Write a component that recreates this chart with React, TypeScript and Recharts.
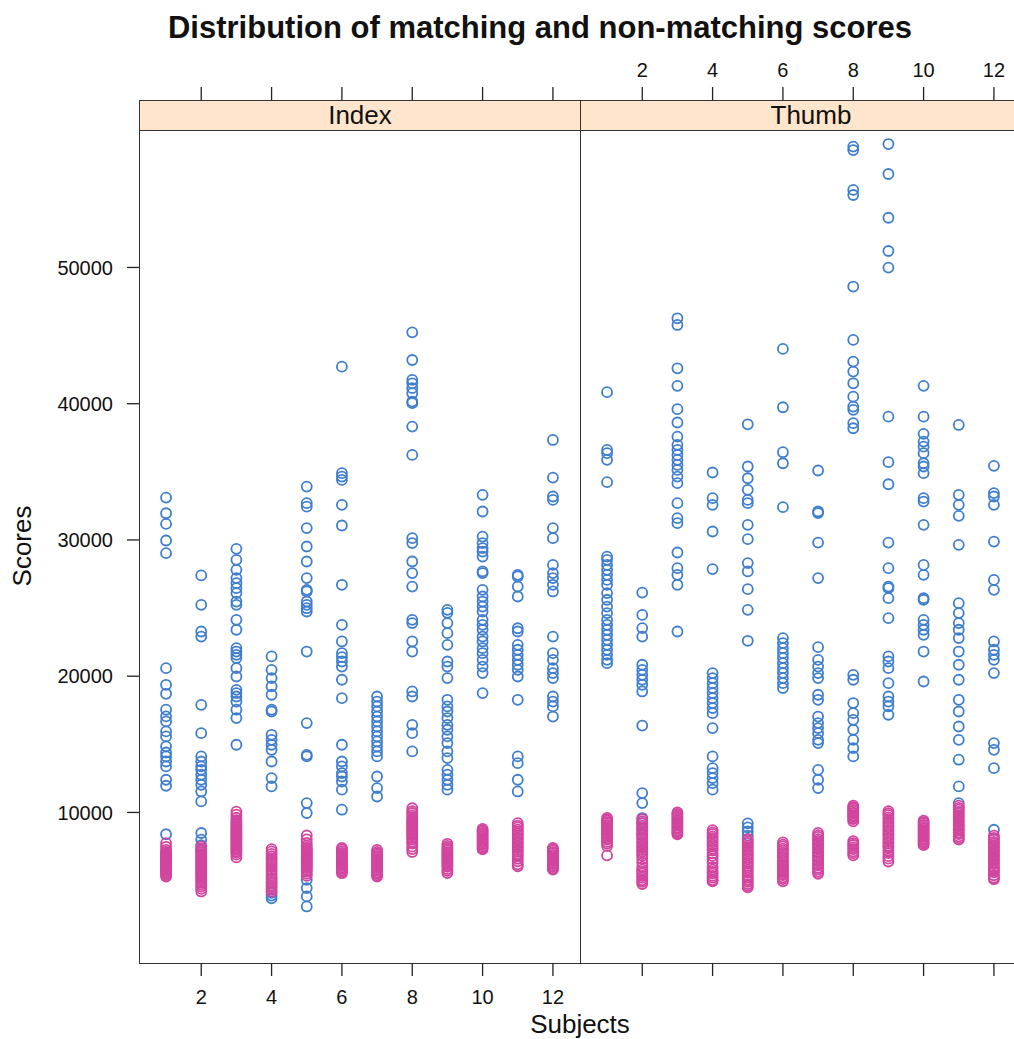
import React from 'react';
import { ScatterChart, Scatter, XAxis, YAxis } from 'recharts';

// subjects 1..12, scores (one list per subject)
const subjects = [1, 2, 3, 4, 5, 6, 7, 8, 9, 10, 11, 12];
const xTicks = [2, 4, 6, 8, 10, 12];
const yTicks = [10000, 20000, 30000, 40000, 50000];

const indexMatching: number[][] = [
  [33110, 31960, 31180, 29960, 29030, 20590, 19370, 18710, 17540, 17050, 16680, 15950, 15580, 14850, 14400, 14110, 13740, 13380, 12400, 11960, 8400],
  [27400, 25240, 23280, 22910, 17900, 15820, 14110, 13740, 13380, 13130, 12770, 12400, 12030, 11540, 10810, 8490, 8000, 7600, 7200],
  [29350, 28540, 27810, 27200, 26830, 26460, 26100, 25480, 25240, 24140, 23410, 22060, 21810, 21570, 21330, 20590, 19980, 19000, 18760, 18510, 18140, 17540, 16930, 14970],
  [21450, 20470, 19860, 19250, 18640, 17540, 17410, 15700, 15330, 14970, 14600, 13740, 12520, 11910, 4100, 3900, 3700],
  [33920, 32700, 32450, 30870, 29520, 28420, 27200, 26340, 26220, 25480, 25240, 24990, 24750, 21810, 16560, 14230, 14110, 10690, 9960, 5060, 4450, 3840, 3100],
  [42720, 34900, 34650, 34410, 32580, 31060, 26710, 23770, 22550, 21690, 21400, 21080, 20710, 19740, 18390, 14970, 13740, 13380, 12890, 12640, 12270, 11670, 10200],
  [18510, 18140, 17780, 17410, 17040, 16680, 16310, 15950, 15580, 15210, 14840, 14480, 14110, 12640, 11790, 11170],
  [45240, 43210, 41750, 41500, 41140, 40770, 40160, 40040, 38320, 36240, 30130, 29770, 28420, 27570, 26580, 24140, 23900, 22550, 21810, 18880, 18510, 16430, 15820, 14480],
  [24870, 24650, 23900, 23160, 22300, 21080, 20710, 19860, 18270, 17780, 17410, 16930, 16430, 16070, 15580, 15090, 14480, 13990, 13130, 12770, 12400, 12030, 11670],
  [33310, 32090, 30250, 29770, 29400, 29150, 28780, 27690, 27570, 26340, 25850, 25480, 25110, 24750, 24140, 23770, 23410, 22910, 22550, 22060, 21690, 21200, 20710, 20230, 18760],
  [27440, 27320, 26580, 25850, 23520, 23280, 22300, 21940, 21570, 21200, 20840, 20470, 19980, 18270, 14110, 13620, 12400, 11540],
  [37340, 34580, 33190, 32940, 30870, 30130, 28170, 27570, 27200, 26710, 26220, 22910, 21690, 21200, 20590, 20230, 19860, 18510, 18140, 17780, 17040],
];

const indexNonMatching: number[][] = [
  [7750, 7480, 7260, 7100, 7010, 6920, 6840, 6780, 6700, 6630, 6580, 6510, 6440, 6380, 6310, 6240, 6180, 6110, 6040, 5980, 5910, 5850, 5770, 5700, 5610, 5500, 5400, 5300],
  [7500, 7340, 7210, 7080, 6960, 6840, 6750, 6620, 6510, 6400, 6290, 6180, 6060, 5950, 5840, 5720, 5610, 5490, 5380, 5260, 5140, 5010, 4860, 4710, 4560, 4390, 4200],
  [10060, 9840, 9610, 9440, 9310, 9190, 9090, 8980, 8890, 8800, 8700, 8610, 8510, 8420, 8340, 8250, 8160, 8050, 7960, 7860, 7750, 7660, 7560, 7440, 7350, 7260, 7140, 7050, 6900, 6700],
  [7310, 7140, 6960, 6800, 6640, 6490, 6310, 6160, 6010, 5840, 5700, 5510, 5360, 5190, 5060, 4910, 4790, 4640, 4510, 4340, 4200],
  [8310, 8020, 7760, 7560, 7410, 7290, 7190, 7110, 6990, 6910, 6790, 6710, 6600, 6490, 6410, 6290, 6210, 6090, 5990, 5910, 5790, 5660, 5500, 5340],
  [7400, 7290, 7160, 7040, 6960, 6840, 6760, 6650, 6540, 6460, 6340, 6260, 6140, 6060, 5940, 5860, 5740, 5660, 5540],
  [7250, 7110, 6990, 6910, 6790, 6710, 6590, 6510, 6390, 6310, 6190, 6110, 5990, 5910, 5790, 5710, 5590, 5510, 5390, 5300],
  [10310, 10090, 9960, 9790, 9660, 9510, 9390, 9310, 9190, 9110, 8990, 8910, 8790, 8710, 8590, 8510, 8390, 8310, 8140, 8010, 7840, 7710, 7490, 7310, 7100],
  [7700, 7540, 7410, 7290, 7210, 7090, 7010, 6890, 6810, 6690, 6610, 6490, 6410, 6290, 6210, 6090, 6010, 5840, 5710, 5550],
  [8800, 8690, 8610, 8490, 8410, 8290, 8210, 8090, 8010, 7890, 7810, 7690, 7610, 7490, 7410, 7300],
  [9210, 9040, 8910, 8740, 8610, 8440, 8310, 8140, 8010, 7840, 7710, 7540, 7410, 7240, 7110, 6940, 6810, 6590, 6410, 6190, 6050],
  [7400, 7290, 7210, 7090, 7010, 6890, 6810, 6690, 6610, 6490, 6410, 6290, 6210, 6090, 6010, 5890, 5800],
];

const thumbMatching: number[][] = [
  [40850, 36610, 36370, 35880, 34240, 28780, 28540, 28170, 27810, 27440, 27070, 26710, 26100, 25610, 25110, 24630, 24140, 23770, 23410, 23040, 22670, 22300, 21940, 21570, 21200, 20960],
  [26140, 24500, 23530, 22910, 20840, 20470, 20100, 19740, 19370, 18880, 16380, 11420, 10690, 9590, 9200, 8800, 8400],
  [46270, 45780, 42600, 41310, 39600, 38620, 37590, 36980, 36610, 36240, 35880, 35510, 35140, 34650, 34170, 32700, 31600, 31230, 29080, 27930, 27440, 26710, 23280],
  [34950, 33070, 32580, 30620, 27860, 20230, 19860, 19490, 19130, 18760, 18390, 18030, 17660, 17290, 16190, 14110, 13250, 12890, 12520, 12150, 11670],
  [38490, 35390, 34530, 33680, 32940, 32700, 31110, 30060, 28300, 27690, 26390, 24870, 22600, 9200, 8900, 8600, 8300],
  [44020, 39740, 36440, 35630, 32410, 22800, 22430, 22060, 21690, 21330, 20960, 20590, 20230, 19860, 19490, 19130],
  [35100, 32090, 31970, 29810, 27200, 22130, 21200, 20710, 20230, 19860, 18640, 18270, 17040, 16560, 16190, 15820, 15330, 15090, 13130, 12400, 11790],
  [58870, 58620, 55690, 55320, 48600, 44680, 43090, 42360, 41500, 40520, 39790, 39550, 38570, 38200, 20100, 19740, 18030, 17290, 16800, 16070, 15330, 14720, 14110],
  [59060, 56860, 53650, 51210, 49990, 39050, 35710, 34090, 29810, 27930, 26580, 26460, 25730, 24260, 21450, 21080, 20590, 19490, 18510, 18140, 17780, 17170],
  [41310, 39050, 37790, 37220, 36850, 36370, 35630, 35390, 34900, 33070, 32820, 31110, 28170, 27440, 25730, 25610, 24140, 23770, 23410, 23040, 21810, 19610],
  [38440, 33310, 32580, 31770, 29640, 25360, 24630, 23900, 23410, 22800, 21810, 20840, 19740, 18270, 17410, 16310, 15330, 13870, 11910, 10690],
  [35440, 33440, 33190, 32580, 29880, 27070, 26340, 22550, 21940, 21570, 21200, 20230, 15090, 14600, 13250, 8730],
];

const thumbNonMatching: number[][] = [
  [9600, 9490, 9410, 9290, 9210, 9090, 9010, 8890, 8810, 8690, 8610, 8490, 8410, 8290, 8210, 8090, 8010, 7840, 7710, 7540, 6850],
  [9500, 9340, 9210, 9040, 8910, 8740, 8610, 8440, 8310, 8140, 8010, 7840, 7710, 7540, 7410, 7240, 7110, 6940, 6810, 6590, 6310, 6010, 5810, 5640, 5510, 5340, 5210, 5040, 4910, 4750],
  [10000, 9890, 9810, 9690, 9610, 9490, 9410, 9290, 9210, 9090, 9010, 8890, 8810, 8690, 8610, 8490, 8400],
  [8700, 8540, 8410, 8240, 8110, 7940, 7810, 7640, 7510, 7340, 7210, 6990, 6810, 6590, 6310, 5990, 5810, 5640, 5510, 5340, 5210, 5040, 4950],
  [8050, 7890, 7760, 7590, 7460, 7290, 7160, 6990, 6860, 6690, 6560, 6390, 6260, 6090, 5960, 5790, 5610, 5390, 5210, 5040, 4910, 4740, 4610, 4500],
  [7800, 7640, 7510, 7340, 7210, 7040, 6910, 6740, 6610, 6440, 6310, 6140, 6010, 5840, 5710, 5540, 5410, 5240, 5110, 4950],
  [8500, 8340, 8210, 8040, 7910, 7740, 7610, 7440, 7310, 7140, 7010, 6840, 6710, 6540, 6410, 6240, 6110, 5940, 5810, 5640, 5500],
  [10500, 10390, 10310, 10190, 10110, 9990, 9910, 9790, 9710, 9590, 9510, 9350, 7900, 7740, 7610, 7440, 7310, 7140, 7010, 6850],
  [10100, 9940, 9810, 9640, 9510, 9340, 9210, 9040, 8910, 8740, 8610, 8440, 8310, 8140, 8010, 7840, 7710, 7540, 7410, 7190, 7010, 6790, 6610, 6400],
  [9400, 9290, 9210, 9090, 9010, 8890, 8810, 8690, 8610, 8490, 8410, 8290, 8210, 8090, 8010, 7890, 7810, 7690, 7600],
  [10500, 10340, 10210, 10040, 9910, 9740, 9610, 9440, 9310, 9140, 9010, 8840, 8710, 8540, 8410, 8240, 8110, 8000],
  [8300, 8140, 8010, 7840, 7710, 7540, 7410, 7240, 7110, 6940, 6810, 6640, 6510, 6340, 6210, 6040, 5910, 5740, 5610, 5390, 5210, 5100],
];

const BLUE = '#3f7ecf';
const MAGENTA = '#d2459f';
const INK = '#222';
const FONT = '"Liberation Sans", Arial, sans-serif';

const toPoints = (lists: number[][]) =>
  lists.flatMap((vals, i) => vals.map((score) => ({ subject: subjects[i], score })));

const ring = (color: string) => (p: any) =>
  <circle cx={p.cx} cy={p.cy} r={5} fill="none" stroke={color} strokeWidth={1.8} />;

const noMark = () => <g />;

// top axis sits above the strip, so shift it up by the strip height
const TopTick = ({ x, y, payload, showLabel }: any) => (
  <g>
    <line x1={x} x2={x} y1={y - 30} y2={y - 43} stroke={INK} strokeWidth={1.3} />
    {showLabel && (
      <text x={x} y={y - 53} textAnchor="middle" fontSize={20} fill="#111">
        {payload.value}
      </text>
    )}
  </g>
);

const Panel = ({ matching, nonMatching, first }: { matching: number[][]; nonMatching: number[][]; first: boolean }) => (
  <ScatterChart
    width={first ? 590 : 462}
    height={1039}
    margin={{ top: 100, right: first ? 10 : 21, bottom: 26, left: 0 }}
  >
    <XAxis
      xAxisId="bottom"
      dataKey="subject"
      type="number"
      domain={[0.23, 12.77]}
      allowDataOverflow
      ticks={xTicks}
      orientation="bottom"
      height={50}
      axisLine={false}
      tickSize={13}
      tickMargin={14}
      tickLine={{ stroke: INK, strokeWidth: 1.3 }}
      tick={{ fill: '#111', fontSize: 20 }}
      tickFormatter={first ? undefined : () => ''}
    />
    <XAxis
      xAxisId="top"
      dataKey="subject"
      type="number"
      domain={[0.23, 12.77]}
      allowDataOverflow
      ticks={xTicks}
      orientation="top"
      height={30}
      axisLine={false}
      tickLine={false}
      tickSize={0}
      tickMargin={0}
      tick={<TopTick showLabel={!first} />}
    />
    <YAxis
      dataKey="score"
      type="number"
      domain={[-1050, 60090]}
      allowDataOverflow
      ticks={yTicks}
      width={first ? 139 : 0}
      hide={!first}
      axisLine={false}
      tickSize={12}
      tickMargin={14}
      tickLine={{ stroke: INK, strokeWidth: 1.3 }}
      tick={{ fill: '#111', fontSize: 20 }}
    />
    <Scatter xAxisId="top" data={toPoints(matching)} shape={noMark} isAnimationActive={false} />
    <Scatter xAxisId="bottom" data={toPoints(matching)} shape={ring(BLUE)} isAnimationActive={false} />
    <Scatter xAxisId="bottom" data={toPoints(nonMatching)} shape={ring(MAGENTA)} isAnimationActive={false} />
  </ScatterChart>
);

const box = (left: number, top: number, width: number, height: number, bg = 'transparent'): React.CSSProperties => ({
  position: 'absolute',
  left,
  top,
  width,
  height,
  boxSizing: 'border-box',
  border: '1.5px solid #333',
  background: bg,
});

export default function App() {
  return (
    <div
      style={{
        position: 'fixed',
        left: 0,
        top: 0,
        width: 1014,
        height: 1039,
        overflow: 'hidden',
        background: '#fff',
        fontFamily: FONT,
        color: '#111',
      }}
    >
      <div style={{ position: 'absolute', left: 0, width: 1080, top: 12, textAlign: 'center', fontSize: 31, fontWeight: 'bold', lineHeight: '31px' }}>
        Distribution of matching and non-matching scores
      </div>

      <div style={{ ...box(139, 100, 442, 31, '#ffe5cc'), textAlign: 'center', fontSize: 26, lineHeight: '28px' }}>Index</div>
      <div style={{ ...box(580, 100, 462, 31, '#ffe5cc'), textAlign: 'center', fontSize: 26, lineHeight: '28px' }}>Thumb</div>
      <div style={box(139, 130, 442, 834)} />
      <div style={box(580, 130, 462, 834)} />

      <div style={{ position: 'absolute', left: 0, top: 0 }}>
        <Panel matching={indexMatching} nonMatching={indexNonMatching} first />
      </div>
      <div style={{ position: 'absolute', left: 580, top: 0 }}>
        <Panel matching={thumbMatching} nonMatching={thumbNonMatching} first={false} />
      </div>

      <div style={{ position: 'absolute', left: 0, width: 1160, top: 1011, textAlign: 'center', fontSize: 26, lineHeight: '26px' }}>Subjects</div>
      <div
        style={{
          position: 'absolute',
          left: 22,
          top: 546,
          fontSize: 26,
          transform: 'translate(-50%, -50%) rotate(-90deg)',
          whiteSpace: 'nowrap',
        }}
      >
        Scores
      </div>
    </div>
  );
}
